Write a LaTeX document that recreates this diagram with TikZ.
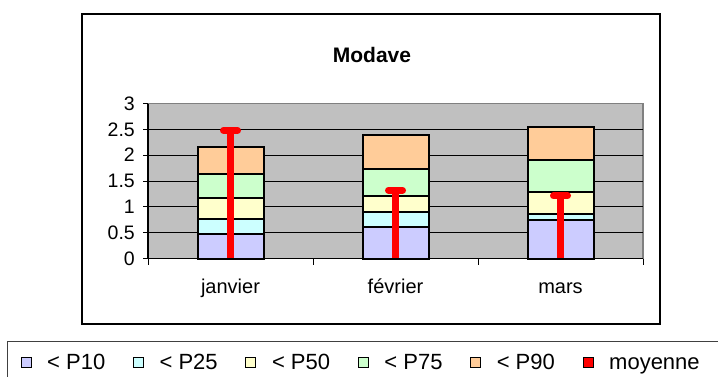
\documentclass[tikz,border=0pt]{standalone}
\usepackage{fontspec}
\setmainfont{Liberation Sans}
\definecolor{cten}{RGB}{204,204,255}
\definecolor{ctwf}{RGB}{204,255,255}
\definecolor{cfif}{RGB}{255,255,204}
\definecolor{csvf}{RGB}{204,255,204}
\definecolor{cnin}{RGB}{255,204,153}
\definecolor{plotgray}{RGB}{192,192,192}
\definecolor{edgegray}{RGB}{128,128,128}
\tikzset{
  seg/.style={draw=black, line width=2pt},
  grid line/.style={draw=black, line width=0.9pt},
  meanline/.style={draw=red, line width=7.5pt},
  meancap/.style={draw=red, line width=7pt, line cap=round},
  lab/.style={font=\fontsize{19.5}{21}\selectfont, inner sep=0pt},
  catlab/.style={font=\fontsize{20}{22}\selectfont, inner sep=0pt, anchor=base},
  leglab/.style={font=\fontsize{22}{24}\selectfont, inner sep=0pt, anchor=base west},
  legsq/.style={draw=black, line width=0.8pt},
}
\newcommand{\stackbar}[7]{%
  % #1 centre x, #2..#6 cumulative values, #7 mean
  \fill[cten] (#1-33,0) rectangle (#1+33,#2);
  \fill[ctwf] (#1-33,#2) rectangle (#1+33,#3);
  \fill[cfif] (#1-33,#3) rectangle (#1+33,#4);
  \fill[csvf] (#1-33,#4) rectangle (#1+33,#5);
  \fill[cnin] (#1-33,#5) rectangle (#1+33,#6);
  \draw[seg] (#1-33,0) rectangle (#1+33,#6);
  \draw[seg] (#1-33,#2) -- (#1+33,#2);
  \draw[seg] (#1-33,#3) -- (#1+33,#3);
  \draw[seg] (#1-33,#4) -- (#1+33,#4);
  \draw[seg] (#1-33,#5) -- (#1+33,#5);
  \draw[meanline] (#1,0) -- (#1,#7);
  \draw[meancap] (#1-7,#7) -- (#1+7,#7);
}
\begin{document}
\begin{tikzpicture}[x=1pt,y=-1pt]
\useasboundingbox (0,0) rectangle (718,376);
\clip (0,0) rectangle (718,376);
\fill[white] (0,0) rectangle (718,376);
% chart frame
\draw[black, line width=1.3pt] (82,14) rectangle (660,324);
\node[lab, font=\fontsize{21}{23}\selectfont\bfseries] (title) at (372,55) {Modave};
% plot area
\fill[plotgray] (148,103.5) rectangle (643,258.5);
\draw[edgegray, line width=1.5pt] (148,103.5) -- (643,103.5) -- (643,258.5);
\begin{scope}[yshift=-258.5pt, y=51.667pt]
  \foreach \v in {0.5,1,1.5,2,2.5} {
    \draw[grid line] (148,\v) -- (643,\v);
  }
  \foreach \v/\t in {0/0,0.5/0.5,1/1,1.5/1.5,2/2,2.5/2.5,3/3} {
    \draw[black, line width=0.9pt] (143,\v) -- (148,\v);
    \node[lab, anchor=east] (tick\t) at (135,\v) {\t};
  }
  \stackbar{230.5}{0.48}{0.76}{1.18}{1.63}{2.16}{2.48}
  \stackbar{395.5}{0.61}{0.90}{1.21}{1.74}{2.39}{1.32}
  \stackbar{560.5}{0.74}{0.86}{1.28}{1.90}{2.54}{1.21}
\end{scope}
% axes
\draw[black, line width=1.1pt] (148,103.5) -- (148,258.5) -- (643,258.5);
\foreach \x in {148,313,478,643} {
  \draw[black, line width=0.9pt] (\x,258.5) -- (\x,265);
}
\node[catlab] (cjan) at (230.5,293.5) {janvier};
\node[catlab] (cfev) at (395.5,293.5) {février};
\node[catlab] (cmar) at (560.5,293.5) {mars};
% legend
\draw[black!75, line width=1pt] (7,341) rectangle (722,385);
\foreach \i/\c/\t in {0/cten/{< P10},1/ctwf/{< P25},2/cfif/{< P50},3/csvf/{< P75},4/cnin/{< P90},5/red/{moyenne}} {
  \draw[legsq, fill=\c] (21+112.4*\i,357.5) rectangle ++(10,10);
  \node[leglab] (leg\i) at (47+112.4*\i,369) {\t};
}
\end{tikzpicture}
\end{document}
